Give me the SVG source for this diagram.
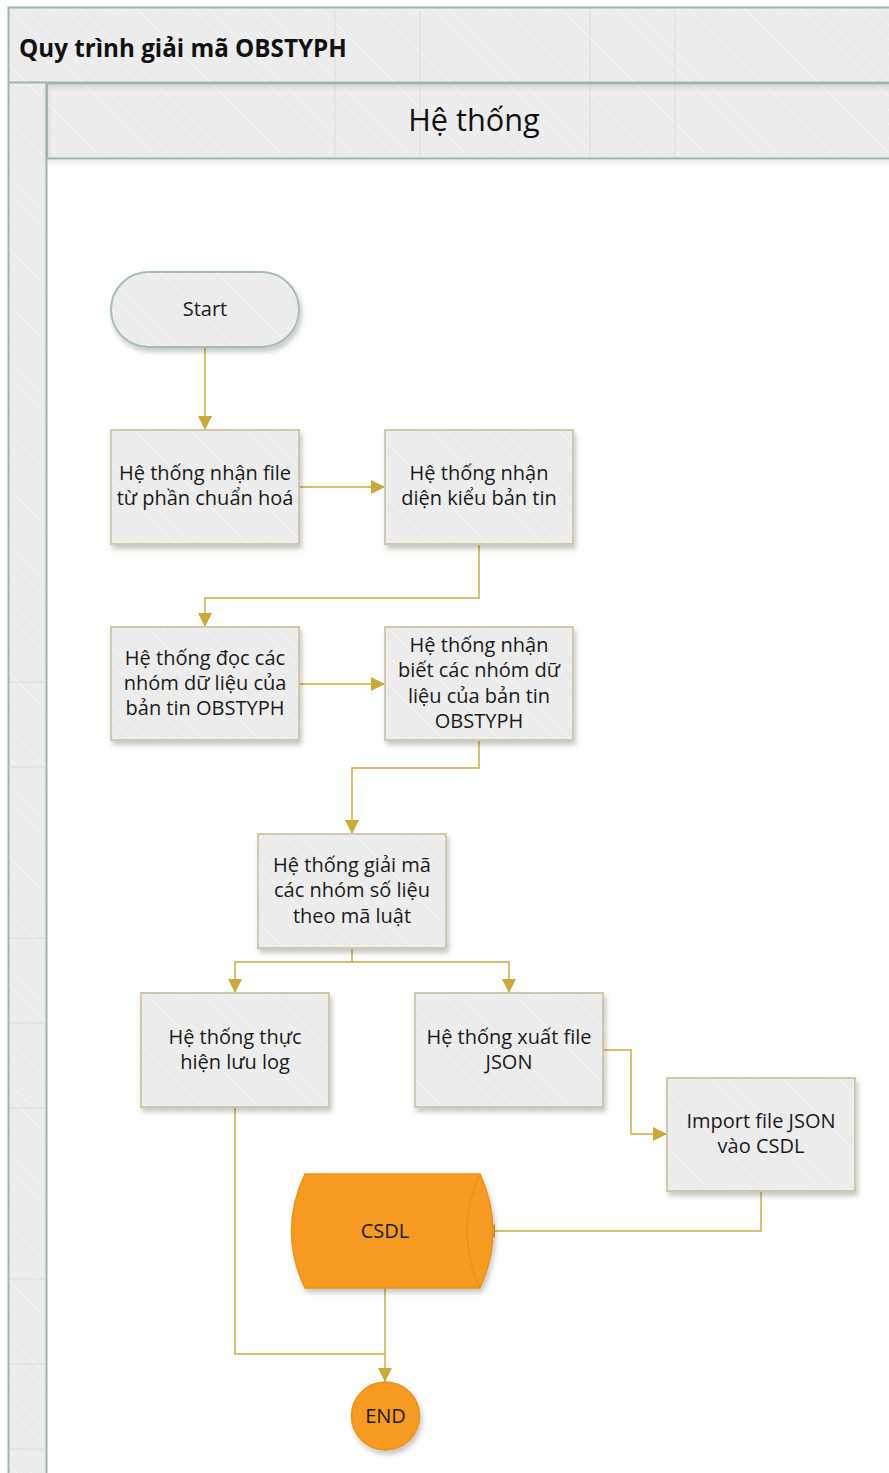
<svg xmlns="http://www.w3.org/2000/svg" width="889" height="1473" viewBox="0 0 889 1473">
<defs>
<pattern id="hatch" width="10" height="10" patternUnits="userSpaceOnUse" patternTransform="rotate(-45)">
<rect width="10" height="10" fill="#ececec"/>
<line x1="0" y1="0" x2="0" y2="10" stroke="#ffffff" stroke-width="1.2" stroke-opacity="0.6"/>
</pattern>
<filter id="sh" x="-10%" y="-10%" width="125%" height="130%">
<feDropShadow dx="2" dy="4" stdDeviation="2.5" flood-color="#000" flood-opacity="0.22"/>
</filter>
<filter id="shb" x="-5%" y="-20%" width="110%" height="160%">
<feDropShadow dx="0" dy="3" stdDeviation="2" flood-color="#000" flood-opacity="0.18"/>
</filter>
<marker id="arr" viewBox="0 0 14 14" refX="14" refY="7" markerWidth="14" markerHeight="14" markerUnits="userSpaceOnUse" orient="auto">
<path d="M0,0 L14,7 L0,14 Z" fill="#c9a93c"/>
</marker>
<style>
.box{fill:url(#hatch);stroke:#d2c9a8;stroke-width:2;filter:url(#sh)}
.txt{font-family:"Segoe UI","Open Sans","Noto Sans",sans-serif;font-size:20px;fill:#1a1a1a;text-anchor:middle}
.con{fill:none;stroke:#c9a93c;stroke-width:1.4}
.frame{stroke:#9fb6ad;stroke-width:2;fill:url(#hatch)}
.tile{stroke:#dcdcdc;stroke-width:1}
.orange{fill:#f79a20;stroke:#e8911c;stroke-width:1.5;filter:url(#sh)}
</style>
</defs>
<rect width="889" height="1473" fill="#ffffff"/>
<g id="pool">
<rect class="frame" x="8.5" y="7.5" width="890" height="1480"/>
<rect x="47" y="159" width="850" height="1320" fill="#ffffff"/>
<line x1="8.5" y1="82.5" x2="889" y2="82.5" stroke="#9fb6ad" stroke-width="2"/>
<g class="tile">
<line x1="335" y1="8.5" x2="335" y2="81"/><line x1="420" y1="8.5" x2="420" y2="81"/>
<line x1="590" y1="8.5" x2="590" y2="81"/><line x1="675" y1="8.5" x2="675" y2="81"/>
<line x1="335" y1="84" x2="335" y2="157"/><line x1="420" y1="84" x2="420" y2="157"/>
<line x1="590" y1="84" x2="590" y2="157"/><line x1="675" y1="84" x2="675" y2="157"/>
<line x1="10" y1="682" x2="45" y2="682"/><line x1="10" y1="767" x2="45" y2="767"/>
<line x1="10" y1="938" x2="45" y2="938"/><line x1="10" y1="1023" x2="45" y2="1023"/>
<line x1="10" y1="1108" x2="45" y2="1108"/><line x1="10" y1="1279" x2="45" y2="1279"/>
<line x1="10" y1="1364" x2="45" y2="1364"/><line x1="10" y1="1449" x2="45" y2="1449"/>
</g>
<text x="19" y="57" font-family="Segoe UI,'Open Sans','Noto Sans',sans-serif" font-weight="bold" font-size="24.2" fill="#111">Quy trình giải mã OBSTYPH</text>
</g>
<g id="lane">
<rect x="47" y="83.5" width="850" height="75" fill="none" stroke="#9fb6ad" stroke-width="2" filter="url(#shb)"/>
<line x1="46.5" y1="83" x2="46.5" y2="1473" stroke="#9fb6ad" stroke-width="2"/>
<text x="474" y="131" font-family="Segoe UI,'Open Sans','Noto Sans',sans-serif" font-size="30.7" fill="#111" text-anchor="middle">Hệ thống</text>
</g>
<g id="connectors">
<path class="con" d="M205,347 V430" marker-end="url(#arr)"/>
<path class="con" d="M299,487 H385" marker-end="url(#arr)"/>
<path class="con" d="M479,544 V598 H205 V627" marker-end="url(#arr)"/>
<path class="con" d="M299,684 H385" marker-end="url(#arr)"/>
<path class="con" d="M479,740 V768 H352 V834" marker-end="url(#arr)"/>
<path class="con" d="M352,948 V962 H235 V993" marker-end="url(#arr)"/>
<path class="con" d="M352,962 H509 V993" marker-end="url(#arr)"/>
<path class="con" d="M603,1050 H631 V1134 H667" marker-end="url(#arr)"/>
<path class="con" d="M761,1191 V1231 H481" marker-end="url(#arr)"/>
<path class="con" d="M235,1107 V1354 H385"/>
<path class="con" d="M385,1288 V1382" marker-end="url(#arr)"/>
</g>
<g id="start">
<rect x="111" y="272" width="188" height="75" rx="37.5" ry="37.5" fill="url(#hatch)" stroke="#a5bdb5" stroke-width="2" filter="url(#sh)"/>
<text class="txt" x="205" y="316">Start</text>
</g>
<g id="n1">
<rect class="box" x="111" y="430" width="188" height="114"/>
<text class="txt" x="205" y="480">Hệ thống nhận file</text>
<text class="txt" x="205" y="505">từ phần chuẩn hoá</text>
</g>
<g id="n2">
<rect class="box" x="385" y="430" width="188" height="114"/>
<text class="txt" x="479" y="480">Hệ thống nhận</text>
<text class="txt" x="479" y="505">diện kiểu bản tin</text>
</g>
<g id="n3">
<rect class="box" x="111" y="627" width="188" height="113"/>
<text class="txt" x="205" y="665">Hệ thống đọc các</text>
<text class="txt" x="205" y="690">nhóm dữ liệu của</text>
<text class="txt" x="205" y="715">bản tin OBSTYPH</text>
</g>
<g id="n4">
<rect class="box" x="385" y="627" width="188" height="113"/>
<text class="txt" x="479" y="652">Hệ thống nhận</text>
<text class="txt" x="479" y="677">biết các nhóm dữ</text>
<text class="txt" x="479" y="703">liệu của bản tin</text>
<text class="txt" x="479" y="728">OBSTYPH</text>
</g>
<g id="n5">
<rect class="box" x="258" y="834" width="188" height="114"/>
<text class="txt" x="352" y="872">Hệ thống giải mã</text>
<text class="txt" x="352" y="897">các nhóm số liệu</text>
<text class="txt" x="352" y="923">theo mã luật</text>
</g>
<g id="n6">
<rect class="box" x="141" y="993" width="188" height="114"/>
<text class="txt" x="235" y="1044">Hệ thống thực</text>
<text class="txt" x="235" y="1069">hiện lưu log</text>
</g>
<g id="n7">
<rect class="box" x="415" y="993" width="188" height="114"/>
<text class="txt" x="509" y="1044">Hệ thống xuất file</text>
<text class="txt" x="509" y="1069">JSON</text>
</g>
<g id="n8">
<rect class="box" x="667" y="1078" width="188" height="113"/>
<text class="txt" x="761" y="1128">Import file JSON</text>
<text class="txt" x="761" y="1153">vào CSDL</text>
</g>
<g id="csdl">
<path class="orange" d="M305,1174 H480 Q506,1231 480,1288 H305 Q278,1231 305,1174 Z"/>
<path d="M480,1174 Q454,1231 480,1288" fill="none" stroke="#e8911c" stroke-width="1.5"/>
<text class="txt" x="385" y="1238">CSDL</text>
</g>
<g id="end">
<circle class="orange" cx="385.5" cy="1416" r="34"/>
<text class="txt" x="385.5" y="1423">END</text>
</g>
</svg>
